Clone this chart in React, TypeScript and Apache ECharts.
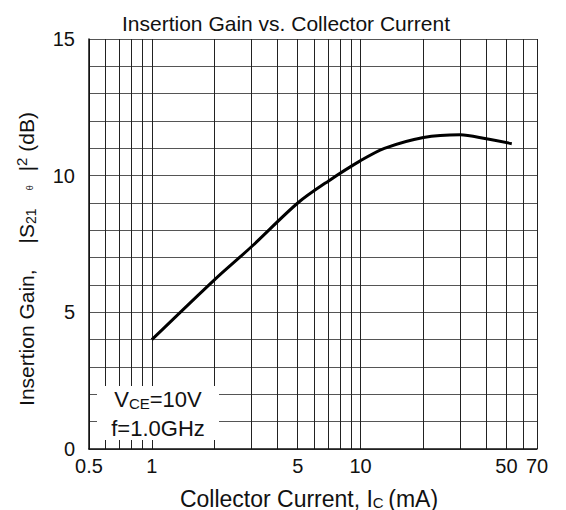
import React, { useEffect, useRef } from "react";
import * as echarts from "echarts";

const currentMA = [1, 2, 3, 5, 7, 10, 13, 20, 30, 40, 53];
const gainDB = [4.0, 6.2, 7.4, 9.0, 9.8, 10.55, 11.0, 11.4, 11.5, 11.35, 11.17];
const xGridValues = [0.5, 0.6, 0.7, 0.8, 0.9, 1, 2, 3, 4, 5, 6, 7, 8, 9, 10, 20, 30, 40, 50, 60, 70];
const xLabelValues = [0.5, 1, 5, 10, 50, 70];
const yLabelValues = [0, 5, 10, 15];

const FONT = "'Liberation Sans', Arial, sans-serif";

export default function App() {
  const ref = useRef<HTMLDivElement>(null);
  useEffect(() => {
    if (!ref.current) return;
    const chart = echarts.init(ref.current, undefined, { renderer: "svg" });
    const data = currentMA.map((c, i) => [c, gainDB[i]]);
    chart.setOption({
      animation: false,
      backgroundColor: "#ffffff",
      textStyle: { fontFamily: FONT },
      title: {
        text: "Insertion Gain vs. Collector Current",
        left: 117,
        top: 8,
        textStyle: { fontFamily: FONT, fontSize: 21, fontWeight: "normal", color: "#111" },
      },
      grid: { left: 89, top: 39, right: 29, bottom: 61, containLabel: false, outerBoundsMode: "none" },
      xAxis: {
        type: "log",
        logBase: 10,
        min: 0.5,
        max: 70,
        name: "Collector Current, I{sub|C}\u2009(mA)",
        nameLocation: "middle",
        nameGap: 38,
        nameTextStyle: {
          fontFamily: FONT,
          fontSize: 23,
          color: "#111",
          padding: [0, 8, 0, 0],
          rich: { sub: { fontSize: 15, verticalAlign: "bottom", padding: [8, 0, 0, 0], fontFamily: FONT, color: "#111" } },
        },
        axisLine: { show: true, lineStyle: { color: "#111", width: 1.5 } },
        axisTick: { show: false, customValues: xGridValues },
        axisLabel: {
          customValues: xLabelValues,
          fontFamily: FONT,
          fontSize: 20,
          color: "#111",
          margin: 7,
          formatter: (v: number) => String(Math.round(v * 10) / 10),
        },
        splitLine: { show: true, lineStyle: { color: "#222", width: 1 } },
      },
      yAxis: {
        type: "value",
        min: 0,
        max: 15,
        interval: 1,
        name: "Insertion Gain,{g| }|S{sub|21}{tiny|\u03b8}|{sup|2} (dB)",
        nameLocation: "middle",
        nameGap: 50,
        nameTextStyle: {
          fontFamily: FONT,
          fontSize: 21,
          color: "#111",
          padding: [0, 30, 0, 0],
          rich: {
            g: { width: 26, fontSize: 21, fontFamily: FONT },
            sub: { fontSize: 14, fontFamily: FONT, color: "#111", padding: [9, 0, 0, 0] },
            tiny: { fontSize: 9, fontFamily: FONT, color: "#111", padding: [6, 14, 0, 18] },
            sup: { fontSize: 15, fontFamily: FONT, color: "#111", padding: [0, 0, 10, 0] },
          },
        },
        axisLine: { show: true, lineStyle: { color: "#111", width: 1.5 } },
        axisTick: { show: false },
        axisLabel: {
          fontFamily: FONT,
          fontSize: 20,
          color: "#111",
          margin: 14,
          formatter: (v: number) => (yLabelValues.includes(v) ? String(v) : ""),
        },
        splitLine: { show: true, lineStyle: { color: "#555", width: 1 } },
      },
      graphic: [
        {
          type: "group",
          z: 100,
          children: [
            { type: "rect", shape: { x: 97, y: 386, width: 122, height: 54 }, style: { fill: "#ffffff" }, z: 100 },
            {
              type: "text",
              x: 158,
              y: 399,
              z: 101,
              style: {
                text: "V{sub|CE}=10V",
                fontFamily: FONT,
                fontSize: 22,
                fill: "#111",
                align: "center",
                verticalAlign: "middle",
                rich: { sub: { fontSize: 15, fontFamily: FONT, fill: "#111", padding: [8, 0, 0, 0] } },
              },
            },
            {
              type: "text",
              x: 158,
              y: 428,
              z: 101,
              style: { text: "f=1.0GHz", fontFamily: FONT, fontSize: 22, fill: "#111", align: "center", verticalAlign: "middle" },
            },
          ],
        },
      ],
      series: [
        {
          type: "line",
          data,
          smooth: 0.3,
          showSymbol: false,
          symbol: "none",
          lineStyle: { color: "#000", width: 3 },
          z: 10,
        },
      ],
    });
    return () => chart.dispose();
  }, []);
  return <div ref={ref} style={{ position: "fixed", left: 0, top: 0, width: 566, height: 510 }} />;
}
